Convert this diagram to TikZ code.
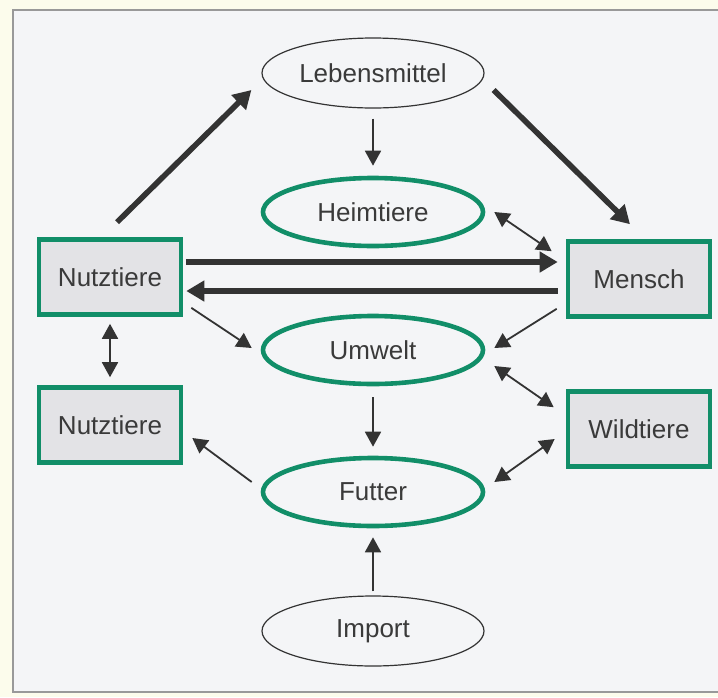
\documentclass[tikz,border=0pt]{standalone}
\usepackage{fontspec}
\setmainfont{Liberation Sans}
\usetikzlibrary{arrows.meta, shapes.geometric}

\definecolor{gruen}{HTML}{118E68}
\definecolor{kasten}{HTML}{E3E3E6}
\definecolor{papier}{HTML}{F4F5F7}
\definecolor{rand}{HTML}{FCFCEC}
\definecolor{pfeil}{HTML}{333333}
\definecolor{schrift}{HTML}{3A3A3A}

\tikzset{
  ovalgruen/.style={ellipse, draw=gruen, line width=2.3pt, fill=papier,
    minimum width=110pt, minimum height=34pt, inner sep=0pt},
  ovalgrau/.style={ellipse, draw=pfeil, line width=0.6pt, fill=papier,
    minimum width=111pt, minimum height=35pt, inner sep=0pt},
  kastengruen/.style={rectangle, draw=gruen, line width=2.3pt, fill=kasten,
    minimum width=71pt, minimum height=37.5pt, inner sep=0pt},
  duenn/.style={draw=pfeil, line width=0.9pt, -{Triangle[length=7.5pt,width=8pt]}},
  duenn2/.style={draw=pfeil, line width=0.9pt,
    {Triangle[length=7.5pt,width=8pt]}-{Triangle[length=7.5pt,width=8pt]}},
  dick/.style={draw=pfeil, line width=2.8pt, -{Triangle[length=9pt,width=10pt]}},
}

\begin{document}
\begin{tikzpicture}[x=0.5pt, y=-0.5pt, font=\fontsize{13}{15}\selectfont, text=schrift]
% Hintergrund und Rahmen
\useasboundingbox (0,0) rectangle (718,697);
\fill[rand] (0,0) rectangle (718,697);
\fill[papier] (13,10) rectangle (718,692);
\draw[draw=gray!80, line width=1pt] (718,10) -- (13,10) -- (13,692) -- (718,692);

% Knoten
\node[ovalgrau] (leb) at (373,73) {Lebensmittel};
\node[ovalgruen] (heim) at (373,212) {Heimtiere};
\node[ovalgruen] (umw) at (373,350) {Umwelt};
\node[ovalgruen] (fut) at (373,492) {Futter};
\node[ovalgrau] (imp) at (373,631) {Import};
\node[kastengruen] (nutz1) at (110,277) {Nutztiere};
\node[kastengruen] (nutz2) at (110,425) {Nutztiere};
\node[kastengruen] (mensch) at (639,279) {Mensch};
\node[kastengruen] (wild) at (639,429) {Wildtiere};

% dicke Pfeile
\draw[dick] ([shift={(7,-15)}]nutz1.north) -- ([shift={(-10,17)}]leb.west);
\draw[dick] ([shift={(9,17)}]leb.east) -- ([shift={(-9,-15)}]mensch.north);
\draw[dick] ([shift={(3,-15)}]nutz1.east) -- ([shift={(-8,-17)}]mensch.west);
\draw[dick] ([shift={(-8,12)}]mensch.west) -- ([shift={(3,14)}]nutz1.east);

% duenne Pfeile
\draw[duenn, shorten <=5pt, shorten >=5pt] (leb) -- (heim);
\draw[duenn, shorten <=5.5pt, shorten >=4.5pt] (umw) -- (fut);
\draw[duenn, shorten <=2pt, shorten >=4.5pt] (imp) -- (fut);
\draw[duenn] ([shift={(8,-9)}]nutz1.south east) -- ([shift={(-9,-2)}]umw.west);
\draw[duenn] ([shift={(-9,-10)}]mensch.south west) -- ([shift={(9,-2)}]umw.east);
\draw[duenn] ([shift={(-9,-10)}]fut.west) -- ([shift={(9,13)}]nutz2.east);
\draw[duenn2, shorten <=3.5pt, shorten >=4pt] (nutz1) -- (nutz2);
\draw[duenn2] ([shift={(9,0)}]heim.east) -- ([shift={(-14,12)}]mensch.north west);
\draw[duenn2] ([shift={(9,16)}]umw.east) -- ([shift={(-12,18)}]wild.north west);
\draw[duenn2] ([shift={(-11,10)}]wild.west) -- ([shift={(9,-10)}]fut.east);
\end{tikzpicture}
\end{document}
